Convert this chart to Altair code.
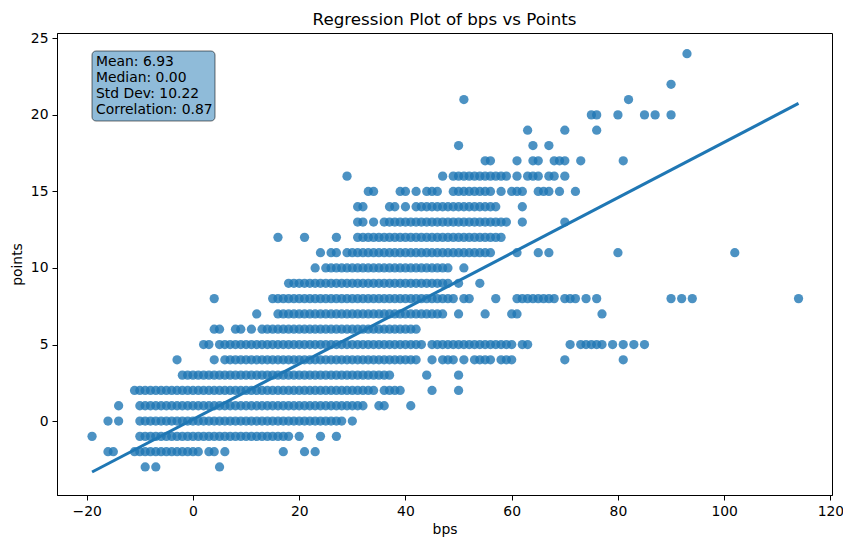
import altair as alt
import pandas as pd

# points level -> runs of bps values (lo, hi inclusive)
points_levels = [-3, -2, -1, 0, 1, 2, 3, 4, 5, 6, 7, 8, 9, 10, 11, 12,
                 13, 14, 15, 16, 17, 18, 19, 20, 21, 22, 24]
bps_runs = [
    [(-9, -9), (-7, -7), (5, 5)],
    [(-16, -15), (-11, 1), (3, 4), (6, 6), (17, 17), (21, 21), (23, 23)],
    [(-19, -19), (-10, 18), (20, 20), (24, 24), (27, 27)],
    [(-16, -16), (-14, -14), (-10, 28), (30, 30)],
    [(-14, -14), (-10, 32), (35, 36), (41, 41)],
    [(-11, 34), (36, 39), (45, 45), (50, 50)],
    [(-2, 37), (44, 44), (50, 50)],
    [(-3, -3), (4, 4), (6, 42), (45, 45), (47, 49), (51, 51), (53, 56),
     (58, 60), (70, 70), (81, 81)],
    [(2, 3), (5, 43), (45, 60), (62, 63), (71, 71), (73, 77), (79, 79),
     (81, 81), (83, 83), (85, 85)],
    [(4, 5), (8, 9), (11, 11), (13, 42)],
    [(12, 12), (16, 47), (50, 50), (55, 55), (60, 61), (77, 77)],
    [(4, 4), (15, 49), (51, 52), (57, 57), (61, 68), (70, 72), (74, 74),
     (76, 76), (90, 90), (92, 92), (94, 94), (114, 114)],
    [(18, 48), (50, 50), (54, 54)],
    [(23, 23), (25, 48), (51, 51)],
    [(24, 24), (26, 27), (29, 56), (61, 61), (65, 65), (67, 67), (80, 80),
     (102, 102)],
    [(16, 16), (21, 21), (27, 27), (31, 58)],
    [(31, 32), (34, 34), (36, 59), (62, 62), (70, 70)],
    [(31, 32), (37, 38), (40, 40), (42, 57), (62, 62)],
    [(33, 34), (39, 40), (42, 42), (44, 46), (49, 56), (58, 58), (60, 62),
     (65, 67), (69, 69), (72, 72)],
    [(29, 29), (47, 47), (49, 59), (61, 61), (63, 65), (67, 68), (70, 70)],
    [(55, 56), (61, 61), (64, 65), (68, 70), (73, 73), (81, 81)],
    [(50, 50), (64, 64), (67, 67)],
    [(63, 63), (70, 70), (76, 76)],
    [(75, 76), (80, 80), (85, 85), (87, 87), (90, 90)],
    [(51, 51), (82, 82)],
    [(90, 90)],
    [(93, 93)],
]

# fitted regression line end points
fit_bps = [-19, 114]
fit_points = [-3.33, 20.75]

stat_names = ["Mean", "Median", "Std Dev", "Correlation"]
stat_values = [6.93, 0.00, 10.22, 0.87]

x_ticks = [-20, 0, 20, 40, 60, 80, 100, 120]
y_ticks = [0, 5, 10, 15, 20, 25]

rows = []
for level, runs in zip(points_levels, bps_runs):
    for lo, hi in runs:
        for b in range(lo, hi + 1):
            rows.append({"bps": b, "points": level})
df = pd.DataFrame(rows)
fit_df = pd.DataFrame({"bps": fit_bps, "points": fit_points})
stat_lines = [f"{n}: {v:.2f}" for n, v in zip(stat_names, stat_values)]

FONT = "DejaVu Sans"
BLUE = "#1f77b4"

x_enc = alt.X(
    "bps:Q",
    title="bps",
    scale=alt.Scale(domain=[-25.6, 120.3], nice=False, zero=False),
    axis=alt.Axis(values=x_ticks, format="d"),
)
y_enc = alt.Y(
    "points:Q",
    title="points",
    scale=alt.Scale(domain=[-4.83, 25.35], nice=False, zero=False),
    axis=alt.Axis(values=y_ticks, format="d"),
)

scatter = (
    alt.Chart(df)
    .mark_circle(size=86, opacity=0.8, color=BLUE)
    .encode(x=x_enc, y=y_enc)
)

fit_line = (
    alt.Chart(fit_df)
    .mark_line(color=BLUE, strokeWidth=3)
    .encode(x="bps:Q", y="points:Q")
)

box = (
    alt.Chart(pd.DataFrame({"k": [0]}))
    .mark_rect(fill=BLUE, fillOpacity=0.5, stroke="black", strokeOpacity=0.55,
               strokeWidth=1, cornerRadius=4)
    .encode(x=alt.value(35), x2=alt.value(158), y=alt.value(18), y2=alt.value(88))
)

stats_text = (
    alt.Chart(pd.DataFrame({"k": [0]}))
    .mark_text(align="left", baseline="top", font=FONT, fontSize=13.9,
               lineHeight=16, color="black")
    .encode(x=alt.value(39), y=alt.value(22), text=alt.value(stat_lines))
)

chart = (
    alt.layer(scatter, fit_line, box, stats_text)
    .properties(
        width=775,
        height=462,
        autosize=alt.AutoSizeParams(type="none"),
        padding={"left": 49, "top": 25, "right": 11, "bottom": 44},
        title=alt.Title(
            "Regression Plot of bps vs Points",
            font=FONT, fontSize=16.7, fontWeight="normal", color="black",
            anchor="middle", offset=3,
        ),
    )
    .configure_view(stroke="black", strokeWidth=1)
    .configure_axis(
        grid=False,
        labelFont=FONT, labelFontSize=13.9, labelColor="black",
        titleFont=FONT, titleFontSize=13.9, titleFontWeight="normal", titleColor="black",
        tickColor="black", domainColor="black", tickSize=5, labelPadding=4,
    )
    .configure_axisX(titlePadding=5)
    .configure_axisY(titlePadding=6)
)

chart.save("out.html", embed_options={"renderer": "svg", "actions": False})
